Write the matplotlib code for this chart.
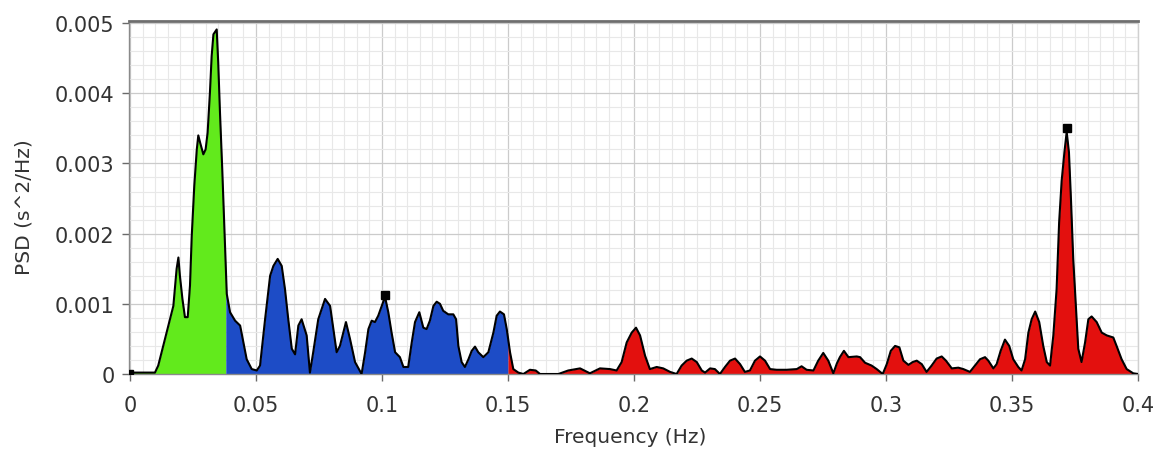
import matplotlib
matplotlib.use("Agg")
import matplotlib.pyplot as plt
from matplotlib.ticker import MultipleLocator
import numpy as np

# ---------------- data ----------------
freq = [
    0.0000, 0.0099, 0.0112, 0.0139, 0.0159, 0.0172, 0.0185, 0.0192, 0.0198, 0.0208,
    0.0218, 0.0229, 0.0238, 0.0245, 0.0255, 0.0265, 0.0271, 0.0278, 0.0291, 0.0300,
    0.0308, 0.0317, 0.0324, 0.0331, 0.0344, 0.0350, 0.0357, 0.0366, 0.0374, 0.0380,
    0.0384, 0.0397, 0.0417, 0.0437, 0.0450, 0.0463, 0.0483, 0.0503, 0.0516, 0.0536,
    0.0556, 0.0569, 0.0586, 0.0602, 0.0615, 0.0628, 0.0642, 0.0655, 0.0668, 0.0681,
    0.0701, 0.0714, 0.0727, 0.0747, 0.0774, 0.0794, 0.0807, 0.0820, 0.0833, 0.0857,
    0.0873, 0.0893, 0.0919, 0.0933, 0.0946, 0.0959, 0.0972, 0.0985, 0.0999, 0.1012,
    0.1025, 0.1038, 0.1052, 0.1071, 0.1085, 0.1104, 0.1118, 0.1131, 0.1148, 0.1164,
    0.1177, 0.1190, 0.1204, 0.1217, 0.1230, 0.1243, 0.1263, 0.1283, 0.1294, 0.1303,
    0.1316, 0.1329, 0.1343, 0.1356, 0.1369, 0.1382, 0.1402, 0.1422, 0.1442, 0.1455,
    0.1468, 0.1484, 0.1495, 0.1508, 0.1521, 0.1541, 0.1561, 0.1587, 0.1610, 0.1627,
    0.1667, 0.1700, 0.1739, 0.1786, 0.1825, 0.1865, 0.1905, 0.1931, 0.1951, 0.1971,
    0.1991, 0.2008, 0.2024, 0.2044, 0.2063, 0.2090, 0.2116, 0.2143, 0.2169, 0.2189,
    0.2209, 0.2229, 0.2249, 0.2269, 0.2282, 0.2302, 0.2321, 0.2341, 0.2361, 0.2381,
    0.2401, 0.2421, 0.2440, 0.2460, 0.2480, 0.2500, 0.2520, 0.2540, 0.2566, 0.2606,
    0.2646, 0.2665, 0.2685, 0.2712, 0.2731, 0.2751, 0.2771, 0.2791, 0.2805, 0.2817,
    0.2833, 0.2851, 0.2884, 0.2897, 0.2917, 0.2943, 0.2963, 0.2987, 0.3003, 0.3019,
    0.3036, 0.3053, 0.3069, 0.3089, 0.3106, 0.3122, 0.3142, 0.3161, 0.3181, 0.3201,
    0.3221, 0.3238, 0.3261, 0.3287, 0.3307, 0.3333, 0.3353, 0.3373, 0.3393, 0.3406,
    0.3426, 0.3439, 0.3455, 0.3472, 0.3489, 0.3505, 0.3525, 0.3538, 0.3552, 0.3565,
    0.3578, 0.3592, 0.3608, 0.3624, 0.3638, 0.3651, 0.3664, 0.3677, 0.3687, 0.3697,
    0.3708, 0.3717, 0.3726, 0.3734, 0.3743, 0.3754, 0.3763, 0.3776, 0.3790, 0.3803,
    0.3816, 0.3836, 0.3856, 0.3876, 0.3902, 0.3915, 0.3935, 0.3955, 0.3981, 0.4000,
]
psd = [
    0.00002, 0.00002, 0.00012, 0.00050, 0.00078, 0.00097, 0.00150, 0.00166, 0.00140, 0.00107,
    0.00081, 0.00081, 0.00126, 0.00197, 0.00268, 0.00320, 0.00340, 0.00330, 0.00313, 0.00320,
    0.00344, 0.00400, 0.00453, 0.00484, 0.00491, 0.00444, 0.00373, 0.00292, 0.00211, 0.00154,
    0.00114, 0.00088, 0.00076, 0.00069, 0.00045, 0.00021, 0.00007, 0.00005, 0.00012, 0.00078,
    0.00140, 0.00154, 0.00164, 0.00154, 0.00121, 0.00078, 0.00036, 0.00028, 0.00069, 0.00078,
    0.00055, 0.00002, 0.00031, 0.00078, 0.00107, 0.00097, 0.00064, 0.00031, 0.00040, 0.00074,
    0.00050, 0.00017, 0.00000, 0.00031, 0.00064, 0.00076, 0.00074, 0.00083, 0.00097, 0.00110,
    0.00088, 0.00059, 0.00031, 0.00024, 0.00010, 0.00010, 0.00045, 0.00074, 0.00088, 0.00066,
    0.00064, 0.00076, 0.00097, 0.00103, 0.00100, 0.00090, 0.00085, 0.00085, 0.00078, 0.00040,
    0.00017, 0.00010, 0.00021, 0.00033, 0.00039, 0.00031, 0.00024, 0.00031, 0.00059, 0.00083,
    0.00089, 0.00085, 0.00064, 0.00031, 0.00007, 0.00002, 0.00000, 0.00006, 0.00005, 0.00000,
    0.00000, 0.00000, 0.00005, 0.00008, 0.00001, 0.00008, 0.00007, 0.00005, 0.00017, 0.00045,
    0.00059, 0.00066, 0.00055, 0.00026, 0.00007, 0.00010, 0.00008, 0.00003, 0.00000, 0.00012,
    0.00019, 0.00022, 0.00017, 0.00005, 0.00002, 0.00008, 0.00007, 0.00000, 0.00010, 0.00019,
    0.00022, 0.00014, 0.00003, 0.00005, 0.00019, 0.00025, 0.00019, 0.00007, 0.00006, 0.00006,
    0.00007, 0.00011, 0.00006, 0.00005, 0.00019, 0.00030, 0.00019, 0.00001, 0.00015, 0.00024,
    0.00033, 0.00024, 0.00025, 0.00024, 0.00016, 0.00012, 0.00007, 0.00000, 0.00014, 0.00033,
    0.00040, 0.00038, 0.00019, 0.00013, 0.00017, 0.00019, 0.00014, 0.00003, 0.00012, 0.00022,
    0.00025, 0.00019, 0.00008, 0.00009, 0.00007, 0.00003, 0.00012, 0.00021, 0.00024, 0.00019,
    0.00008, 0.00014, 0.00033, 0.00049, 0.00040, 0.00021, 0.00010, 0.00005, 0.00021, 0.00059,
    0.00078, 0.00089, 0.00074, 0.00040, 0.00017, 0.00012, 0.00055, 0.00121, 0.00216, 0.00275,
    0.00316, 0.00345, 0.00316, 0.00249, 0.00164, 0.00093, 0.00036, 0.00017, 0.00045, 0.00078,
    0.00082, 0.00074, 0.00059, 0.00055, 0.00052, 0.00040, 0.00021, 0.00007, 0.00001, 0.00000,
]

band_edges = [0.0, 0.038, 0.15, 0.4]          # VLF / LF / HF
band_colors = ["#62ea1c", "#1d4cc6", "#e3100e"]

peak_freqs = [0.1012, 0.3717]
peak_psd = [0.00113, 0.00350]
vlf_peak_freq = [0.0005]
vlf_peak_psd = [0.00003]

xtick_values = [0, 0.05, 0.1, 0.15, 0.2, 0.25, 0.3, 0.35, 0.4]
xtick_labels = ["0", "0.05", "0.1", "0.15", "0.2", "0.25", "0.3", "0.35", "0.4"]
ytick_values = [0, 0.001, 0.002, 0.003, 0.004, 0.005]
ytick_labels = ["0", "0.001", "0.002", "0.003", "0.004", "0.005"]

# ---------------- figure ----------------
W, H = 1158, 452
fig = plt.figure(figsize=(W / 100, H / 100), dpi=100)
fig.patch.set_facecolor("white")
left_px, right_px, top_px, bot_px = 128.5, 1138, 22, 375
ax = fig.add_axes([left_px / W, 1 - bot_px / H, (right_px - left_px) / W, (bot_px - top_px) / H])

f = np.array(freq)
p = np.array(psd)

for i, col in enumerate(band_colors):
    lo, hi = band_edges[i], band_edges[i + 1]
    m = (f > lo) & (f < hi)
    fx = np.concatenate([[lo], f[m], [hi]])
    px = np.concatenate([[np.interp(lo, f, p)], p[m], [np.interp(hi, f, p)]])
    ax.fill_between(fx, 0, px, color=col, lw=0, zorder=2)

ax.plot(f, p, color="black", lw=1.5, zorder=3)
ax.plot(peak_freqs, peak_psd, ls="none", marker="s", ms=6, color="black", zorder=4)
ax.plot(vlf_peak_freq, vlf_peak_psd, ls="none", marker="s", ms=3.5, color="black", zorder=4)

ax.set_xlim(-0.0006, 0.4)
ax.set_ylim(0, 0.00503)
ax.set_xticks(xtick_values)
ax.set_xticklabels(xtick_labels)
ax.set_yticks(ytick_values)
ax.set_yticklabels(ytick_labels)
ax.xaxis.set_minor_locator(MultipleLocator(0.005))
ax.yaxis.set_minor_locator(MultipleLocator(0.0002))

ax.set_axisbelow(True)
ax.grid(which="major", color="#cbcbcb", lw=0.9)
ax.grid(which="minor", color="#e8e8e8", lw=0.8)

ax.tick_params(which="minor", length=0)
ax.tick_params(axis="both", which="major", direction="out", length=5, width=1,
               color="#6a6a6a", labelsize=15, labelcolor="#333333")
ax.tick_params(axis="y", pad=5)
ax.tick_params(axis="x", pad=10)

for s in ["left", "bottom"]:
    ax.spines[s].set_color("#8a8a8a")
    ax.spines[s].set_linewidth(1.0)
ax.spines["right"].set_color("#d0d0d0")
ax.spines["right"].set_linewidth(1.0)
ax.spines["top"].set_color("#6e6e6e")
ax.spines["top"].set_linewidth(2.0)

fig.text(630 / W, 1 - 438 / H, "Frequency (Hz)", ha="center", va="center",
         fontsize=14.5, color="#333333")
fig.text(24 / W, 1 - 207 / H, "PSD (s^2/Hz)", ha="center", va="center",
         rotation=90, fontsize=14.5, color="#333333")

fig.savefig("out.png", dpi=100, facecolor="white")
